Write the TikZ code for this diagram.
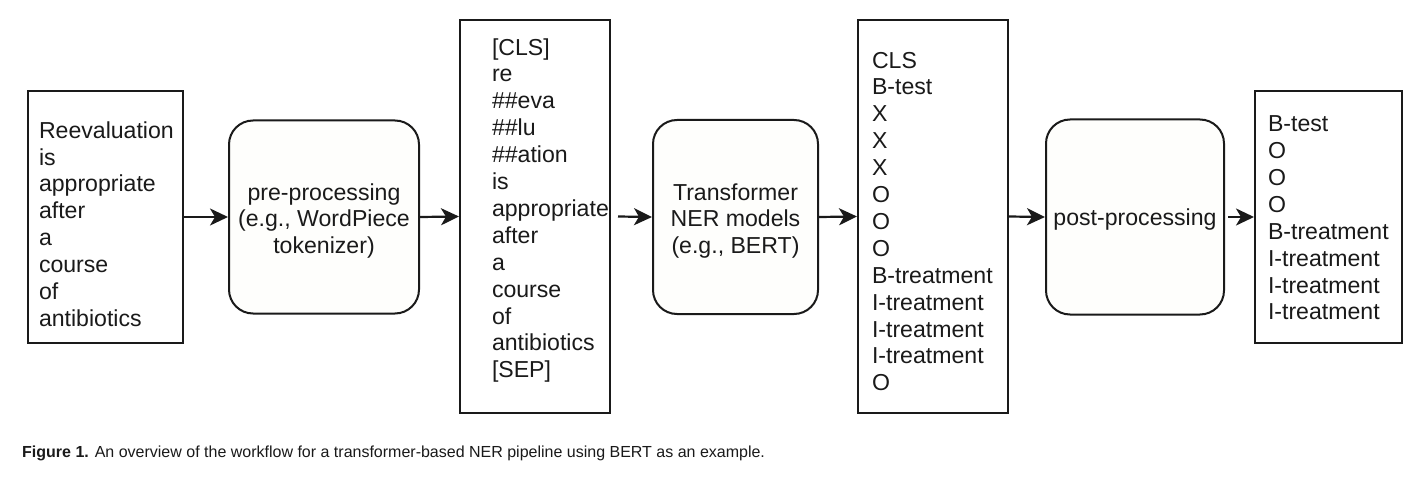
\documentclass[tikz,border=0pt]{standalone}
\usepackage{fontspec}
\setmainfont{Liberation Sans}
\usetikzlibrary{arrows.meta}
\definecolor{ink}{HTML}{1A1A1A}
\definecolor{softfill}{HTML}{FEFEFC}
\tikzset{
  boxtext/.style={align=left, inner sep=0pt, font=\fontsize{23.1}{26.9}\selectfont, text=ink},
  proctext/.style={align=center, inner sep=0pt, font=\fontsize{23.1}{26.9}\selectfont, text=ink},
  listbox/.style={draw=ink, line width=2pt, rectangle, inner sep=0pt},
  procbox/.style={draw=ink, line width=2pt, rectangle, rounded corners=24pt, fill=softfill, inner sep=0pt},
  flow/.style={draw=ink, line width=2.2pt, -{Stealth[length=18pt,width=17pt,inset=5pt]}}
}
\begin{document}
\begin{tikzpicture}[x=1pt,y=-1pt]
\useasboundingbox (0,0) rectangle (1416,484);
\fill[white] (0,0) rectangle (1416,484);

\node[listbox, minimum width=155pt, minimum height=252pt,
  label={[boxtext, text width=133pt, yshift=-7pt]center:{Reevaluation\\is\\appropriate\\after\\a\\course\\of\\antibiotics}}]
  (in) at (105.5,217) {};

\node[procbox, minimum width=190pt, minimum height=193pt,
  label={[proctext, yshift=-4pt]center:{pre-processing\\(e.g., WordPiece\\tokenizer)}}]
  (pre) at (324,217) {};

\node[listbox, minimum width=150pt, minimum height=393pt,
  label={[boxtext, text width=86pt, yshift=6pt]center:{{}[CLS]\\re\\\#\#eva\\\#\#lu\\\#\#ation\\is\\appropriate\\after\\a\\course\\of\\antibiotics\\{}[SEP]}}]
  (tok) at (535,216.5) {};

\node[procbox, minimum width=165pt, minimum height=194pt,
  label={[proctext, yshift=-4pt]center:{Transformer\\NER models\\(e.g., BERT)}}]
  (tr) at (735.5,217) {};

\node[listbox, minimum width=150pt, minimum height=393pt,
  label={[boxtext, text width=122pt, yshift=-5pt]center:{CLS\\B-test\\X\\X\\X\\O\\O\\O\\B-treatment\\I-treatment\\I-treatment\\I-treatment\\O}}]
  (lab) at (933,216.5) {};

\node[procbox, minimum width=178pt, minimum height=195pt,
  label={[proctext, yshift=-3pt]center:{post-processing}}]
  (post) at (1135,217) {};

\node[listbox, minimum width=147pt, minimum height=252pt,
  label={[boxtext, text width=121pt, yshift=-1pt]center:{B-test\\O\\O\\O\\B-treatment\\I-treatment\\I-treatment\\I-treatment}}]
  (out) at (1328.5,217) {};

\draw[flow] (in.east) -- (pre.west);
\draw[flow] (pre.east) -- (tok.west);
\draw[flow] ([xshift=7pt]tok.east) -- (tr.west);
\draw[flow] (tr.east) -- (lab.west);
\draw[flow] (lab.east) -- (post.west);
\draw[flow] ([xshift=3pt]post.east) -- (out.west);

\node[anchor=base west, inner sep=0pt, text=ink, font=\fontsize{16}{18}\selectfont] (cap) at (22,457)
 {\textbf{Figure 1.} An overview of the workflow for a transformer-based NER pipeline using BERT as an example.};
\end{tikzpicture}
\end{document}
